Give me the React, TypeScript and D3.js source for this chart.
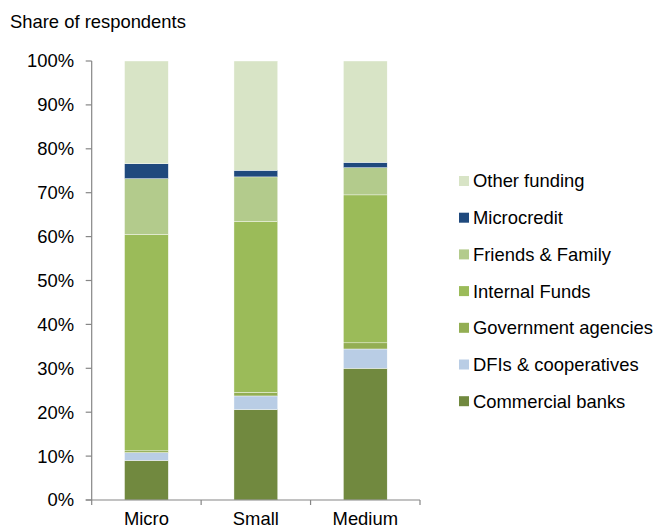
import React from "react";
import * as d3 from "d3";

const categories = ["Micro", "Small", "Medium"];
const seriesNames = [
  "Commercial banks",
  "DFIs & cooperatives",
  "Government agencies",
  "Internal Funds",
  "Friends & Family",
  "Microcredit",
  "Other funding",
];
const commercialBanks = [9.0, 20.6, 30.0];
const dfisCooperatives = [1.8, 3.1, 4.4];
const governmentAgencies = [0.4, 0.8, 1.4];
const internalFunds = [49.3, 39.0, 33.7];
const friendsFamily = [12.7, 10.1, 6.2];
const microcredit = [3.4, 1.5, 1.2];
const otherFunding = [23.4, 24.9, 23.1];
const seriesColors = ["#71893F", "#B9CDE5", "#93AE53", "#9BBB59", "#B3CB8C", "#1F497D", "#D8E4C6"];
const yTicks = [0, 10, 20, 30, 40, 50, 60, 70, 80, 90, 100];

export default function App() {
  const W = 657, H = 529;
  const left = 91.7, right = 420, top = 61, bottom = 500;
  const values = [commercialBanks, dfisCooperatives, governmentAgencies, internalFunds, friendsFamily, microcredit, otherFunding];
  const rows = categories.map((c, i) => {
    const r: any = { cat: c };
    seriesNames.forEach((s, j) => (r[s] = values[j][i]));
    return r;
  });
  const stacked = d3.stack().keys(seriesNames)(rows);
  const x = d3.scaleBand().domain(categories).range([left, right]).paddingInner(0.6).paddingOuter(0.3);
  const xb = d3.scaleBand().domain(categories).range([left, right]);
  const y = d3.scaleLinear().domain([0, 100]).range([bottom, top]);
  const font = "'Liberation Sans', Arial, sans-serif";
  const fs = 18.4;
  const axisColor = "#868686";
  const legendOrder = [...seriesNames].reverse();
  return (
    <svg width={W} height={H} style={{ position: "absolute", left: 0, top: 0 }} fontFamily={font}>
      <rect width={W} height={H} fill="#fff" />
      <text x={10} y={28} fontSize={fs} fill="#000">Share of respondents</text>
      {stacked.map((layer, j) =>
        layer.map((d, i) => (
          <rect
            key={`${j}-${i}`}
            x={x(categories[i])}
            width={x.bandwidth()}
            y={y(d[1])}
            height={y(d[0]) - y(d[1])}
            fill={seriesColors[j]}
            stroke="#fff"
            strokeWidth={0.4}
          />
        ))
      )}
      <line x1={left} x2={left} y1={top} y2={bottom} stroke={axisColor} strokeWidth={1.2} />
      {yTicks.map((t) => (
        <g key={t}>
          <line x1={left - 6} x2={left} y1={y(t)} y2={y(t)} stroke={axisColor} strokeWidth={1.2} />
          <text x={74} y={y(t)} dy="0.35em" textAnchor="end" fontSize={fs} fill="#000">{t}%</text>
        </g>
      ))}
      <line x1={left - 6} x2={right} y1={bottom} y2={bottom} stroke={axisColor} strokeWidth={1.2} />
      {[...categories.map((c) => xb(c) as number), right].map((v, i) => (
        <line key={i} x1={v} x2={v} y1={bottom} y2={bottom + 5} stroke={axisColor} strokeWidth={1.2} />
      ))}
      {categories.map((c) => (
        <text key={c} x={(xb(c) as number) + xb.bandwidth() / 2} y={525} textAnchor="middle" fontSize={fs} fill="#000">{c}</text>
      ))}
      {legendOrder.map((s, k) => {
        const cy = 181 + k * 36.7;
        const j = seriesNames.indexOf(s);
        return (
          <g key={s}>
            <rect x={459} y={cy - 5} width={10} height={10} fill={seriesColors[j]} />
            <text x={473} y={cy} dy="0.35em" fontSize={fs} fill="#000">{s}</text>
          </g>
        );
      })}
    </svg>
  );
}
